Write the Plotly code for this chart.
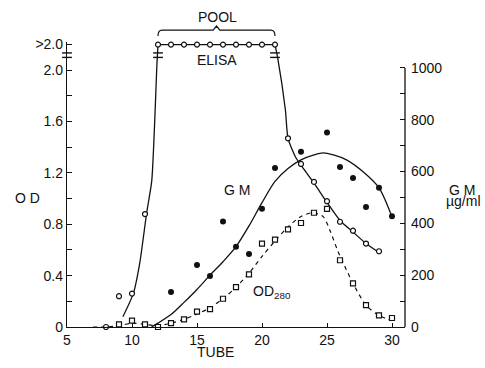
import plotly.graph_objects as go

# ---------------- data ----------------
# ELISA (open circles, left axis OD); >2.0 readings plotted at 2.2
elisa_tube = [8, 9, 10, 11, 12, 13, 14, 15, 16, 17, 18, 19, 20, 21,
              22, 23, 24, 25, 26, 27, 28, 29]
elisa_od = [0.0, 0.24, 0.26, 0.88, 2.2, 2.2, 2.2, 2.2, 2.2, 2.2, 2.2, 2.2, 2.2, 2.2,
            1.47, 1.27, 1.13, 0.98, 0.82, 0.75, 0.65, 0.59]
# ELISA fitted line (rising, plateau, falling)
elisa_rise_tube = [9.3, 10.1, 10.6, 11.13, 11.52, 11.92, 12.0]
elisa_rise_od = [0.08, 0.26, 0.50, 0.89, 1.14, 2.05, 2.2]
elisa_fall_tube = [21.0, 21.2, 21.8, 22.0, 22.6, 23.0, 24.0, 25.0, 26.0, 27.0, 28.0, 29.0]
elisa_fall_od = [2.2, 2.1, 1.69, 1.47, 1.32, 1.26, 1.12, 0.97, 0.83, 0.74, 0.65, 0.58]

# OD280 (open squares, left axis)
od280_tube = [9, 10, 11, 12, 13, 14, 15, 16, 17, 18, 19, 20, 21, 22, 23, 24, 25,
              26, 27, 28, 29, 30]
od280_val = [0.02, 0.05, 0.02, 0.0, 0.03, 0.06, 0.12, 0.14, 0.22, 0.31, 0.41, 0.65,
             0.68, 0.76, 0.81, 0.89, 0.92, 0.52, 0.34, 0.17, 0.09, 0.07]
od280_line_tube = [7, 8, 9, 10, 11, 12, 13, 14, 15, 16, 17, 18, 19, 20, 21, 22, 23,
                   23.9, 24.7, 25.2, 25.8, 26.2, 27, 28, 29, 30]
od280_line_val = [0.0, 0.0, 0.01, 0.03, 0.02, 0.01, 0.03, 0.06, 0.10, 0.15, 0.22, 0.31,
                  0.42, 0.55, 0.67, 0.78, 0.86, 0.89, 0.86, 0.76, 0.60, 0.51, 0.34,
                  0.17, 0.09, 0.05]

# G M (filled circles, right axis, ug/ml)
gm_tube = [13, 15, 16, 17, 18, 19, 20, 21, 23, 25, 26, 27, 28, 29, 30]
gm_val = [135, 239, 197, 407, 310, 282, 456, 614, 676, 751, 618, 575, 463, 537, 427]
gm_line_tube = [11.5, 12, 13, 14, 15, 16, 17, 18, 19, 20, 21, 22, 23, 24, 24.7,
                25.5, 26.5, 27.8, 29, 30]
gm_line_val = [0, 15, 48, 95, 145, 200, 252, 310, 390, 480, 562, 612, 645, 664, 672,
               664, 645, 598, 537, 425]

# off-scale break marks (tube, OD)
break_tube = [5, 12, 21]
break_od_a = [2.135, 2.135, 2.135]
break_od_b = [2.1, 2.1, 2.1]

x_ticks = [5, 10, 15, 20, 25, 30]
od_ticks = [0, 0.4, 0.8, 1.2, 1.6, 2.0, 2.2]
od_ticktext = ["0", "0.4", "0.8", "1.2", "1.6", "2.0", ">2.0"]
od_minor = [0.2, 0.6, 1.0, 1.4, 1.8]
gm_ticks = [0, 200, 400, 600, 800, 1000]
gm_minor = [100, 300, 500, 700, 900]
pool_tubes = [12, 21]

X_RANGE = [5, 31]
OD_RANGE = [0, 2.22]
GM_RANGE = [0, 1100]

FONT = "Liberation Sans, Arial, sans-serif"
BLACK = "#111111"

fig = go.Figure()

line_style = dict(color=BLACK, width=1.3)

fig.add_trace(go.Scatter(x=elisa_rise_tube, y=elisa_rise_od, mode="lines",
                         line=dict(**line_style, shape="spline", smoothing=0.6),
                         hoverinfo="skip", showlegend=False))
fig.add_trace(go.Scatter(x=elisa_tube[4:14], y=elisa_od[4:14], mode="lines",
                         line=line_style, hoverinfo="skip", showlegend=False))
fig.add_trace(go.Scatter(x=elisa_fall_tube, y=elisa_fall_od, mode="lines",
                         line=dict(**line_style, shape="spline", smoothing=0.6),
                         hoverinfo="skip", showlegend=False))
fig.add_trace(go.Scatter(x=od280_line_tube, y=od280_line_val, mode="lines",
                         line=dict(color=BLACK, width=1.2, dash="4px,4px",
                                   shape="spline", smoothing=0.8),
                         hoverinfo="skip", showlegend=False))
fig.add_trace(go.Scatter(x=gm_line_tube, y=gm_line_val, mode="lines", yaxis="y2",
                         line=dict(**line_style, shape="spline", smoothing=0.8),
                         hoverinfo="skip", showlegend=False))

fig.add_trace(go.Scatter(x=elisa_tube, y=elisa_od, mode="markers", name="ELISA",
                         marker=dict(symbol="circle", size=5, color="white",
                                     line=dict(color=BLACK, width=1.2)),
                         showlegend=False, cliponaxis=False))
fig.add_trace(go.Scatter(x=od280_tube, y=od280_val, mode="markers", name="OD280",
                         marker=dict(symbol="square", size=5, color="white",
                                     line=dict(color=BLACK, width=1.2)),
                         showlegend=False, cliponaxis=False))
fig.add_trace(go.Scatter(x=gm_tube, y=gm_val, mode="markers", name="G M", yaxis="y2",
                         marker=dict(symbol="circle", size=6, color=BLACK),
                         showlegend=False, cliponaxis=False))
for ys in (break_od_a, break_od_b):
    fig.add_trace(go.Scatter(x=break_tube, y=ys, mode="markers",
                             marker=dict(symbol="line-ew", size=7,
                                         line=dict(color=BLACK, width=1.4)),
                             hoverinfo="skip", showlegend=False, cliponaxis=False))

# helpers to place decorations in paper coords
def px(t):
    return (t - X_RANGE[0]) / (X_RANGE[1] - X_RANGE[0])

# POOL brace
x0, x1 = px(pool_tubes[0]), px(pool_tubes[1])
xm = (x0 + x1) / 2
yb, yt, ye = 1.042, 1.056, 1.021
brace = (f"M {x0:.4f},{ye} Q {x0:.4f},{yb} {x0+0.012:.4f},{yb} "
         f"L {xm-0.010:.4f},{yb} L {xm:.4f},{yt} L {xm+0.010:.4f},{yb} "
         f"L {x1-0.012:.4f},{yb} Q {x1:.4f},{yb} {x1:.4f},{ye}")
shapes = [
    dict(type="path", xref="paper", yref="paper", path=brace,
         line=dict(color=BLACK, width=1.2)),
    # right axis line (only up to 1000)
    dict(type="line", xref="paper", yref="y2", x0=1, x1=1, y0=0, y1=gm_ticks[-1],
         line=dict(color=BLACK, width=1.3)),
]

tf = dict(family=FONT, size=14, color=BLACK)
C = dict(xanchor="center", yanchor="middle", showarrow=False, font=tf)
L = dict(xanchor="left", yanchor="middle", showarrow=False, font=tf)
annotations = [
    dict(text="POOL", x=px(16.6), y=1.088, xref="paper", yref="paper", **C),
    dict(text="ELISA", x=px(16.5), y=2.08, xref="paper", yref="y", **C),
    dict(text="G M", x=px(18.1), y=1.07, xref="paper", yref="y", **C),
    dict(text="OD<sub>280</sub>", x=px(20.8), y=0.27, xref="paper", yref="y", **C),
    dict(text="TUBE", x=px(16.4), y=-0.088, xref="paper", yref="paper", **C),
    dict(text="O D", x=-0.118, y=0.453, xref="paper", yref="paper", **C),
    dict(text="G M", x=1.125, y=0.481, xref="paper", yref="paper", **L),
    dict(text="µg/ml", x=1.116, y=0.442, xref="paper", yref="paper", **L),
]

axis_common = dict(showgrid=False, zeroline=False, ticks="inside", tickcolor=BLACK,
                   tickwidth=1.2, tickfont=tf, color=BLACK)

fig.update_layout(
    width=485, height=368,
    margin=dict(l=67, r=80, t=42, b=41, pad=0),
    paper_bgcolor="white", plot_bgcolor="white",
    font=tf,
    showlegend=False,
    xaxis=dict(range=X_RANGE, tickmode="array", tickvals=x_ticks, ticklen=4,
               showline=True, linecolor=BLACK, linewidth=1.3, **axis_common),
    yaxis=dict(range=OD_RANGE, tickmode="array", tickvals=od_ticks,
               ticktext=od_ticktext, ticklen=5,
               minor=dict(tickmode="array", tickvals=od_minor, ticks="inside",
                          ticklen=5, tickcolor=BLACK, tickwidth=1.2),
               showline=True, linecolor=BLACK, linewidth=1.3, **axis_common),
    yaxis2=dict(range=GM_RANGE, overlaying="y", side="right", tickmode="array",
                tickvals=gm_ticks, ticklen=5, ticklabelstandoff=5,
                minor=dict(tickmode="array", tickvals=gm_minor, ticks="inside",
                           ticklen=5, tickcolor=BLACK, tickwidth=1.2),
                showline=False, **axis_common),
    shapes=shapes,
    annotations=annotations,
)

fig.write_html("out.html")
